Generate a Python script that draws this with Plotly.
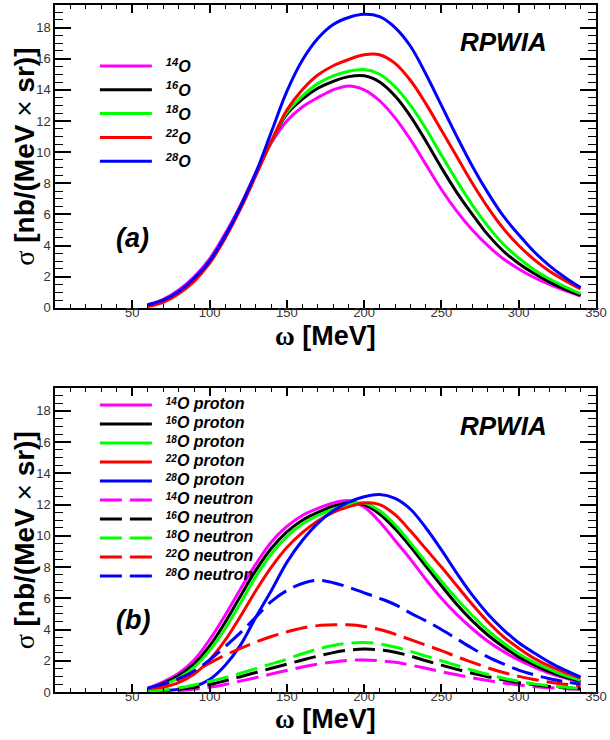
import plotly.graph_objects as go

# ---------------- data ----------------
omega = [60, 70, 80, 90, 100, 110, 120, 130, 140, 150, 160, 170, 180, 190, 200,
         210, 220, 230, 240, 250, 260, 270, 280, 290, 300, 310, 320, 330, 340]

isotopes = ["14", "16", "18", "22", "28"]
colors = ["#ff00ff", "#000000", "#00ff00", "#ff0000", "#0000ff"]

# panel (a): total cross sections
tot_14 = [0.2, 0.55, 1.15, 2.0, 3.15, 4.75, 6.6, 8.7, 10.6, 12.0, 12.9, 13.5, 14.0, 14.25, 14.0,
          13.3, 12.2, 10.8, 9.2, 7.6, 6.2, 5.0, 4.0, 3.15, 2.5, 1.95, 1.5, 1.1, 0.75]
tot_16 = [0.15, 0.45, 1.0, 1.85, 3.0, 4.6, 6.5, 8.6, 10.7, 12.45, 13.4, 14.1, 14.55, 14.85, 14.9,
          14.5, 13.6, 12.3, 10.7, 9.0, 7.4, 6.0, 4.7, 3.65, 2.85, 2.2, 1.65, 1.2, 0.8]
tot_18 = [0.1, 0.4, 0.95, 1.8, 2.95, 4.55, 6.45, 8.6, 10.7, 12.55, 13.6, 14.4, 14.9, 15.2, 15.3,
          15.0, 14.2, 13.0, 11.5, 9.8, 8.15, 6.6, 5.25, 4.1, 3.2, 2.45, 1.85, 1.35, 0.92]
tot_22 = [0.08, 0.35, 0.9, 1.7, 2.85, 4.45, 6.35, 8.5, 10.7, 12.7, 14.0, 14.95, 15.55, 15.95, 16.25,
          16.25, 15.7, 14.6, 13.1, 11.4, 9.7, 8.0, 6.45, 5.1, 4.0, 3.1, 2.35, 1.75, 1.22]
tot_28 = [0.2, 0.5, 1.05, 1.9, 3.0, 4.6, 6.5, 8.7, 11.3, 13.9, 15.9, 17.3, 18.2, 18.65, 18.85,
          18.7, 18.0, 16.8, 15.0, 13.0, 11.0, 9.1, 7.4, 5.9, 4.7, 3.6, 2.7, 1.95, 1.3]

# panel (b): proton contributions
pro_14 = [0.25, 0.65, 1.2, 2.05, 3.35, 4.9, 6.6, 8.2, 9.6, 10.6, 11.3, 11.75, 12.1, 12.25, 11.85,
          10.9, 9.7, 8.5, 7.2, 6.0, 4.95, 4.05, 3.25, 2.6, 2.05, 1.6, 1.2, 0.9, 0.65]
pro_16 = [0.2, 0.55, 1.05, 1.8, 2.95, 4.45, 6.15, 7.8, 9.2, 10.25, 11.0, 11.5, 11.9, 12.1, 12.0,
          11.4, 10.45, 9.3, 8.05, 6.8, 5.6, 4.55, 3.65, 2.9, 2.25, 1.75, 1.3, 0.95, 0.68]
pro_18 = [0.15, 0.45, 0.9, 1.6, 2.65, 4.05, 5.7, 7.4, 8.85, 9.95, 10.75, 11.3, 11.7, 12.0, 12.1,
          11.6, 10.7, 9.55, 8.3, 7.1, 5.95, 4.9, 3.95, 3.15, 2.45, 1.9, 1.45, 1.05, 0.75]
pro_22 = [0.1, 0.3, 0.6, 1.15, 2.05, 3.3, 4.85, 6.5, 8.0, 9.25, 10.2, 10.95, 11.5, 11.85, 12.1,
          12.0, 11.35, 10.3, 9.15, 8.0, 6.8, 5.6, 4.5, 3.55, 2.8, 2.15, 1.65, 1.25, 0.9]
pro_28 = [0.02, 0.08, 0.18, 0.35, 0.8, 1.7, 3.0, 4.8, 6.5, 8.3, 9.7, 10.8, 11.6, 12.15, 12.5,
          12.65, 12.4, 11.7, 10.5, 9.1, 7.6, 6.2, 5.0, 4.0, 3.15, 2.5, 1.9, 1.4, 0.95]

# panel (b): neutron contributions
neu_14 = [0.02, 0.05, 0.1, 0.18, 0.3, 0.48, 0.7, 0.92, 1.15, 1.38, 1.6, 1.78, 1.92, 2.02, 2.05,
          2.0, 1.9, 1.72, 1.52, 1.3, 1.1, 0.9, 0.73, 0.58, 0.45, 0.35, 0.27, 0.21, 0.16]
neu_16 = [0.03, 0.08, 0.17, 0.3, 0.48, 0.72, 0.98, 1.25, 1.52, 1.78, 2.05, 2.3, 2.52, 2.68, 2.75,
          2.7, 2.55, 2.3, 2.0, 1.72, 1.45, 1.2, 0.98, 0.78, 0.6, 0.47, 0.36, 0.28, 0.22]
neu_18 = [0.05, 0.12, 0.25, 0.45, 0.68, 0.92, 1.2, 1.5, 1.8, 2.1, 2.45, 2.75, 2.98, 3.12, 3.17,
          3.08, 2.88, 2.6, 2.3, 2.0, 1.7, 1.4, 1.12, 0.88, 0.68, 0.52, 0.4, 0.3, 0.22]
neu_22 = [0.2, 0.45, 0.8, 1.3, 1.85, 2.35, 2.8, 3.2, 3.55, 3.85, 4.1, 4.25, 4.3, 4.3, 4.2,
          4.0, 3.7, 3.35, 3.0, 2.65, 2.25, 1.9, 1.55, 1.25, 1.0, 0.8, 0.62, 0.5, 0.4]
neu_28 = [0.25, 0.5, 0.85, 1.35, 2.05, 2.9, 3.8, 4.8, 5.8, 6.5, 6.95, 7.15, 7.0, 6.7, 6.35,
          6.0, 5.6, 5.05, 4.55, 4.0, 3.4, 2.8, 2.25, 1.8, 1.4, 1.1, 0.85, 0.65, 0.5]

totals = [tot_14, tot_16, tot_18, tot_22, tot_28]
protons = [pro_14, pro_16, pro_18, pro_22, pro_28]
neutrons = [neu_14, neu_16, neu_18, neu_22, neu_28]

x_ticks = [50, 100, 150, 200, 250, 300, 350]
y_ticks = [0, 2, 4, 6, 8, 10, 12, 14, 16, 18]

x_title = '<span style="font-family:Liberation Serif">ω</span> [MeV]'
y_title = ('<span style="font-family:Liberation Serif;font-weight:normal">σ</span>'
           ' [nb/(MeV <span style="font-weight:normal">×</span> sr)]')

# ---------------- figure ----------------
fig = go.Figure()

NB = "\u00a0"
for iso, col, ys in zip(isotopes, colors, totals):
    fig.add_trace(go.Scatter(
        x=omega, y=ys, mode="lines", xaxis="x", yaxis="y", legend="legend",
        line=dict(color=col, width=3, shape="spline"),
        name=f"{NB}{NB}<sup>{iso}</sup>O"))

sup_span = ('<span style="font-size:16px">' + NB + NB + '</span>'
            '<sup><span style="font-size:10px">{}</span></sup>'
            '<span style="font-size:16px">O {}</span>')
for iso, col, ys in zip(isotopes, colors, protons):
    fig.add_trace(go.Scatter(
        x=omega, y=ys, mode="lines", xaxis="x2", yaxis="y2", legend="legend2",
        line=dict(color=col, width=3, shape="spline"),
        name=sup_span.format(iso, "proton")))
for iso, col, ys in zip(isotopes, colors, neutrons):
    fig.add_trace(go.Scatter(
        x=omega, y=ys, mode="lines", xaxis="x2", yaxis="y2", legend="legend2",
        line=dict(color=col, width=3, shape="spline", dash="22px,8px"),
        name=sup_span.format(iso, "neutron")))

tickfont = dict(family="Liberation Sans", size=13, color="#333333")


def xaxis(anchor):
    return dict(
        anchor=anchor, domain=[0, 1], range=[0, 350],
        tickvals=x_ticks, ticks="inside", ticklen=8, tickwidth=1.5, tickcolor="black",
        minor=dict(dtick=10, ticks="inside", ticklen=4, tickwidth=1.2, tickcolor="black"),
        showline=True, linecolor="black", linewidth=1.5, mirror="ticks",
        showgrid=False, zeroline=False, tickfont=tickfont, ticklabelstandoff=-8)


def yaxis(anchor, domain):
    return dict(
        anchor=anchor, domain=domain, range=[0, 19.45],
        tickvals=y_ticks, ticks="inside", ticklen=16, tickwidth=1.5, tickcolor="black",
        minor=dict(dtick=0.5, ticks="inside", ticklen=8, tickwidth=1.2, tickcolor="black"),
        showline=True, linecolor="black", linewidth=1.5, mirror="ticks",
        showgrid=False, zeroline=False, tickfont=tickfont)


legfont = dict(family="Liberation Sans", color="black", weight="bold", style="italic")
bigfont = dict(family="Liberation Sans", size=27, weight="bold", style="italic", color="black")
titlefont_x = dict(family="Liberation Sans", size=27, weight="bold", color="black")
titlefont_y = dict(family="Liberation Sans", size=28, weight="bold", color="black")


def ann(text, x, y, font, angle=0):
    return dict(text=text, x=x, y=y, xref="paper", yref="paper", showarrow=False,
                xanchor="center", yanchor="middle", font=font, textangle=angle)


fig.update_layout(
    width=610, height=740,
    margin=dict(l=55, r=12, t=3, b=48),
    paper_bgcolor="white", plot_bgcolor="white",
    showlegend=True,
    xaxis=xaxis("y"),
    yaxis=yaxis("x", [0.5592, 1.0]),
    xaxis2=xaxis("y2"),
    yaxis2=yaxis("x2", [0.0, 0.4422]),
    legend=dict(x=0.0737, y=0.9358, xanchor="left", yanchor="top",
                bgcolor="rgba(0,0,0,0)", borderwidth=0, itemwidth=52,
                font=dict(size=16, **legfont), traceorder="normal"),
    legend2=dict(x=0.0737, y=0.4388, xanchor="left", yanchor="top",
                 bgcolor="rgba(0,0,0,0)", borderwidth=0, itemwidth=52,
                 font=dict(size=10.5, **legfont), traceorder="normal"),
    annotations=[
        ann("RPWIA", 0.8287, 0.9463, dict(bigfont, size=26)),
        ann("RPWIA", 0.8287, 0.3875, dict(bigfont, size=26)),
        ann("(a)", 0.1436, 0.6604, bigfont),
        ann("(b)", 0.1436, 0.1045, bigfont),
        ann(x_title, 0.5, 0.5185, titlefont_x),
        ann(x_title, 0.5, -0.0395, titlefont_x),
        ann(y_title, -0.0571, 0.7794, titlefont_y, -90),
        ann(y_title, -0.0571, 0.2209, titlefont_y, -90),
    ],
)

fig.write_html("out.html")
